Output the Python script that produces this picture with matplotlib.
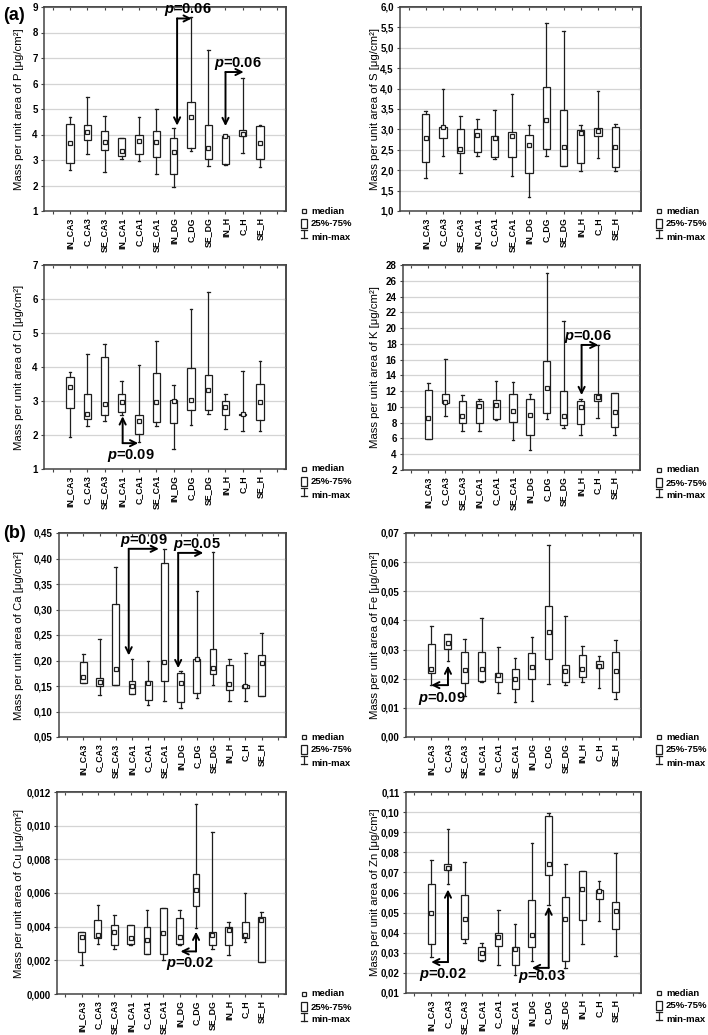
import numpy as np
import matplotlib
matplotlib.use("Agg")
import matplotlib.pyplot as plt
from matplotlib.ticker import FuncFormatter, MultipleLocator
from matplotlib.patches import Rectangle

plt.rcParams['font.family'] = ['Liberation Sans', 'DejaVu Sans']
plt.rcParams['font.weight'] = 'bold'
plt.rcParams['mathtext.fontset'] = 'custom'
plt.rcParams['mathtext.it'] = 'Liberation Sans:italic:bold'
plt.rcParams['mathtext.rm'] = 'Liberation Sans:bold'

W, H = 708, 1035

groups = ['IN_CA3', 'C_CA3', 'SE_CA3', 'IN_CA1', 'C_CA1', 'SE_CA1',
          'IN_DG', 'C_DG', 'SE_DG', 'IN_H', 'C_H', 'SE_H']

# (min, q1, median, q3, max) for each group
P = [(2.60, 2.88, 3.68, 4.43, 4.70), (3.25, 3.80, 4.10, 4.37, 5.48),
     (2.53, 3.38, 3.72, 4.15, 4.73), (3.03, 3.15, 3.37, 3.88, 3.88),
     (2.97, 3.22, 3.75, 3.98, 4.68), (2.45, 3.12, 3.72, 4.12, 5.00),
     (1.95, 2.45, 3.30, 3.85, 4.25), (3.35, 3.48, 4.68, 5.27, 8.60),
     (2.75, 3.02, 3.48, 4.37, 7.33), (2.82, 2.85, 3.93, 3.93, 3.97),
     (3.28, 3.93, 4.03, 4.17, 6.20), (2.72, 3.02, 3.68, 4.32, 4.37)]

S = [(1.80, 2.20, 2.78, 3.37, 3.45), (2.36, 2.80, 3.05, 3.05, 4.00),
     (1.93, 2.42, 2.53, 3.02, 3.33), (2.35, 2.44, 2.87, 3.02, 3.25),
     (2.28, 2.32, 2.80, 2.83, 3.47), (1.85, 2.32, 2.83, 2.93, 3.87),
     (1.35, 1.92, 2.61, 2.87, 3.10), (2.36, 2.52, 3.22, 4.05, 5.62),
     (2.10, 2.10, 2.56, 3.47, 5.40), (1.99, 2.17, 2.92, 2.98, 3.10),
     (2.30, 2.85, 2.96, 3.03, 3.95), (1.97, 2.08, 2.58, 3.05, 3.14)]

Cl = [(1.95, 2.80, 3.40, 3.70, 3.85), (2.27, 2.47, 2.63, 3.22, 4.38),
      (2.42, 2.58, 2.90, 4.30, 4.67), (2.60, 2.68, 2.96, 3.22, 3.58),
      (1.78, 2.03, 2.42, 2.60, 4.05), (2.25, 2.38, 2.97, 3.82, 4.75),
      (1.60, 2.35, 3.00, 3.02, 3.48), (2.28, 2.73, 3.02, 3.98, 5.72),
      (2.63, 2.73, 3.32, 3.77, 6.22), (2.18, 2.60, 2.83, 3.00, 3.22),
      (2.12, 2.60, 2.62, 2.63, 3.88), (2.12, 2.43, 2.96, 3.50, 4.18)]

K = [(5.9, 5.9, 8.6, 12.1, 13.0), (8.8, 10.5, 10.6, 11.7, 16.1),
     (7.0, 8.0, 8.9, 10.8, 11.5), (7.0, 7.9, 10.1, 10.8, 11.0),
     (8.3, 8.5, 10.2, 10.9, 13.3), (5.8, 8.1, 9.5, 11.6, 13.2),
     (4.5, 6.4, 9.0, 11.0, 11.6), (8.5, 9.2, 12.4, 15.8, 27.0),
     (7.3, 7.7, 8.9, 12.0, 20.9), (6.4, 7.8, 10.0, 10.7, 11.0),
     (8.6, 10.8, 11.2, 11.6, 17.9), (6.5, 7.4, 9.3, 11.8, 11.8)]

Ca = [(0.155, 0.155, 0.168, 0.197, 0.213), (0.132, 0.150, 0.158, 0.165, 0.243),
      (0.152, 0.152, 0.184, 0.310, 0.383), (0.135, 0.135, 0.150, 0.160, 0.203),
      (0.113, 0.122, 0.155, 0.160, 0.199), (0.120, 0.160, 0.198, 0.392, 0.419),
      (0.107, 0.118, 0.155, 0.175, 0.180), (0.127, 0.137, 0.202, 0.203, 0.337),
      (0.151, 0.173, 0.186, 0.222, 0.413), (0.121, 0.142, 0.154, 0.191, 0.203),
      (0.120, 0.147, 0.150, 0.151, 0.215), (0.130, 0.130, 0.195, 0.211, 0.254)]

Fe = [(0.0180, 0.0220, 0.0234, 0.0318, 0.0380), (0.0260, 0.0302, 0.0322, 0.0352, 0.0352),
      (0.0142, 0.0185, 0.0230, 0.0290, 0.0336), (0.0190, 0.0192, 0.0235, 0.0290, 0.0410),
      (0.0150, 0.0188, 0.0212, 0.0220, 0.0310), (0.0120, 0.0163, 0.0200, 0.0235, 0.0272),
      (0.0125, 0.0200, 0.0240, 0.0288, 0.0343), (0.0182, 0.0268, 0.0362, 0.0450, 0.0658),
      (0.0180, 0.0190, 0.0225, 0.0248, 0.0415), (0.0188, 0.0207, 0.0235, 0.0283, 0.0312),
      (0.0168, 0.0238, 0.0243, 0.0260, 0.0278), (0.0130, 0.0155, 0.0226, 0.0290, 0.0332)]

Cu = [(0.0017, 0.0025, 0.0034, 0.0037, 0.0037), (0.0030, 0.0033, 0.0035, 0.0044, 0.0053),
      (0.0027, 0.0029, 0.0037, 0.0041, 0.0047), (0.0029, 0.0030, 0.0033, 0.0041, 0.0041),
      (0.0024, 0.0024, 0.0032, 0.0040, 0.0050), (0.0020, 0.0024, 0.0036, 0.0051, 0.0051),
      (0.0029, 0.0030, 0.0034, 0.0045, 0.0050), (0.0039, 0.0052, 0.0062, 0.0071, 0.0113),
      (0.0027, 0.0029, 0.0035, 0.0037, 0.0096), (0.0023, 0.0029, 0.0038, 0.0040, 0.0043),
      (0.0031, 0.0033, 0.0035, 0.0043, 0.0060), (0.0019, 0.0019, 0.0044, 0.0046, 0.0049)]

Zn = [(0.0280, 0.0345, 0.0500, 0.0640, 0.0760), (0.0640, 0.0710, 0.0720, 0.0740, 0.0915),
      (0.0350, 0.0370, 0.0470, 0.0590, 0.0753), (0.0260, 0.0265, 0.0300, 0.0330, 0.0350),
      (0.0238, 0.0335, 0.0380, 0.0400, 0.0515), (0.0190, 0.0240, 0.0320, 0.0330, 0.0442),
      (0.0260, 0.0330, 0.0390, 0.0565, 0.0848), (0.0540, 0.0685, 0.0743, 0.0980, 0.0995),
      (0.0222, 0.0260, 0.0468, 0.0580, 0.0743), (0.0345, 0.0462, 0.0617, 0.0705, 0.0705),
      (0.0460, 0.0570, 0.0605, 0.0612, 0.0655), (0.0283, 0.0420, 0.0510, 0.0552, 0.0795)]

fig = plt.figure(figsize=(W / 100, H / 100), dpi=100)
dark = '#1e1e1e'


def panel(px, stats, elem, ylim, step, dec, ylab_x, leg_x):
    left, top, right, bottom = px
    ax = fig.add_axes([left / W, 1 - bottom / H, (right - left) / W, (bottom - top) / H])
    pos = np.arange(1, 13)
    bst = [dict(whislo=s[0], q1=s[1], med=s[2], q3=s[3], whishi=s[4]) for s in stats]
    ax.bxp(bst, positions=pos, widths=0.42, capwidths=0.16, showfliers=False,
           patch_artist=True,
           boxprops=dict(facecolor='white', edgecolor=dark, lw=0.9),
           whiskerprops=dict(color=dark, lw=0.9), capprops=dict(color=dark, lw=0.9),
           medianprops=dict(visible=False), manage_ticks=False)
    ax.plot(pos, [s[2] for s in stats], 's', ms=3.2, mfc='white', mec=dark, mew=0.9,
            zorder=5)
    ax.set_xlim(-0.5, 13.5)
    ax.set_ylim(*ylim)
    ax.yaxis.set_major_locator(MultipleLocator(step))
    ax.yaxis.set_major_formatter(FuncFormatter(lambda v, p: f'{v:.{dec}f}'.replace('.', ',')))
    ax.set_xticks(np.arange(0, 14))
    ax.set_xticklabels([''] + groups + [''], rotation=90, fontsize=6.3)
    ax.tick_params(axis='y', direction='out', length=2.5, width=0.8, pad=2,
                   labelsize=7, color='#444444')
    ax.tick_params(axis='x', direction='out', length=2.5, width=0.8, pad=2,
                   color='#444444')
    top_ax = ax.secondary_xaxis('top')
    top_ax.set_xticks(np.arange(0, 14))
    top_ax.tick_params(direction='in', length=2.5, labeltop=False, color='#444444')
    right_ax = ax.secondary_yaxis('right')
    right_ax.yaxis.set_major_locator(MultipleLocator(step))
    right_ax.tick_params(direction='in', length=2.5, labelright=False, color='#444444')
    for a in (ax, top_ax, right_ax):
        for sp in a.spines.values():
            sp.set_color('#444444')
            sp.set_linewidth(1.1)
    ax.grid(axis='y', color='#d4d4d4', lw=0.9)
    ax.set_axisbelow(True)
    ax.set_ylabel(f'Mass per unit area of {elem} [μg/cm²]', fontsize=8.2)
    ax.yaxis.set_label_coords((ylab_x - left) / (right - left), 0.5)

    # legend block to the right of the axes
    tf = fig.transFigure
    fx = lambda x: x / W
    fy = lambda y: 1 - y / H
    fig.lines.append(plt.Line2D([fx(leg_x)], [fy(bottom)], marker='s', ms=3.2,
                                mfc='white', mec=dark, mew=0.9, transform=tf))
    fig.patches.append(Rectangle((fx(leg_x - 3), fy(bottom + 17)), 6 / W, 9 / H,
                                 transform=tf, fc='white', ec=dark, lw=0.9))
    fig.lines.append(plt.Line2D([fx(leg_x), fx(leg_x)], [fy(bottom + 19), fy(bottom + 27)],
                                color=dark, lw=0.9, transform=tf))
    for yy in (bottom + 19, bottom + 27):
        fig.lines.append(plt.Line2D([fx(leg_x - 3), fx(leg_x + 3)], [fy(yy), fy(yy)],
                                    color=dark, lw=0.9, transform=tf))
    for txt, yy in (('median', bottom), ('25%-75%', bottom + 13), ('min-max', bottom + 26)):
        fig.text(fx(leg_x + 7), fy(yy), txt, fontsize=6.8, va='center', ha='left')
    return ax


def note(ax, corner, tips, label, lab_xy):
    for tip in tips:
        ax.annotate('', xy=tip, xytext=corner,
                    arrowprops=dict(arrowstyle='->', lw=1.4, color='black',
                                    shrinkA=0, shrinkB=0, mutation_scale=11))
    ax.text(*lab_xy, label, fontsize=10.5, ha='center', va='baseline', clip_on=False)


axP = panel((44, 7, 286, 211), P, 'P', (1, 9), 1, 0, 24, 304)
note(axP, (7.2, 8.55), [(7.2, 4.35), (8.05, 8.55)], r'$p$=0.06', (7.8, 8.78))
note(axP, (10.0, 6.45), [(10.0, 4.33), (11.05, 6.45)], r'$p$=0.06', (10.7, 6.66))

axS = panel((400, 7, 641, 211), S, 'S', (1.0, 6.0), 0.5, 1, 380, 659)

axCl = panel((44, 265, 286, 469), Cl, 'Cl', (1, 7), 1, 0, 24, 304)
note(axCl, (4.05, 1.76), [(4.05, 2.55), (4.95, 1.76)], r'$p$=0.09', (4.55, 1.3))

axK = panel((403, 265, 640, 470), K, 'K', (2, 28), 2, 0, 380, 659)
note(axK, (10.05, 17.86), [(10.05, 11.5), (11.04, 17.86)], r'$p$=0.06', (10.4, 18.5))

axCa = panel((59, 533, 286, 737), Ca, 'Ca', (0.05, 0.45), 0.05, 2, 24, 304)
note(axCa, (3.8, 0.419), [(3.8, 0.21), (5.66, 0.419)], r'$p$=0.09', (4.75, 0.429))
note(axCa, (6.85, 0.411), [(6.85, 0.185), (8.4, 0.411)], r'$p$=0.05', (8.0, 0.42))

axFe = panel((406, 533, 641, 737), Fe, 'Fe', (0.0, 0.07), 0.01, 2, 380, 659)
note(axFe, (2.0, 0.0178), [(2.0, 0.0245), (1.0, 0.0178)], r'$p$=0.09', (1.64, 0.012))

axCu = panel((57, 792, 286, 994), Cu, 'Cu', (0.0, 0.012), 0.002, 3, 24, 304)
note(axCu, (8.0, 0.00253), [(8.0, 0.0037), (7.05, 0.00253)], r'$p$=0.02', (7.65, 0.00158))

axZn = panel((406, 792, 641, 993), Zn, 'Zn', (0.01, 0.11), 0.01, 2, 380, 659)
note(axZn, (2.0, 0.0254), [(2.0, 0.0615), (1.0, 0.0254)], r'$p$=0.02', (1.7, 0.0175))
note(axZn, (8.0, 0.0225), [(8.0, 0.053), (7.0, 0.0225)], r'$p$=0.03', (7.6, 0.0165))

fig.text(3 / W, 1 - 16 / H, '(a)', fontsize=13, va='center', ha='left')
fig.text(3 / W, 1 - 533 / H, '(b)', fontsize=13, va='center', ha='left')

fig.savefig('out.png', dpi=100)
